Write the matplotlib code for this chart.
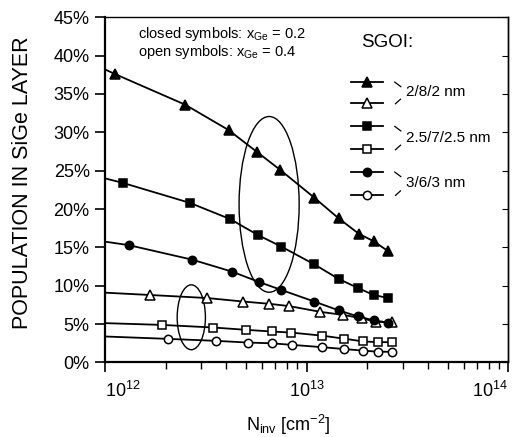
import matplotlib
matplotlib.use("Agg")
import matplotlib.pyplot as plt
from matplotlib.patches import Ellipse
from matplotlib.ticker import PercentFormatter, LogLocator

plt.rcParams['font.family'] = ['Liberation Sans', 'DejaVu Sans']
plt.rcParams['mathtext.fontset'] = 'custom'
plt.rcParams['mathtext.rm'] = 'Liberation Sans'
plt.rcParams['mathtext.it'] = 'Liberation Sans'
plt.rcParams['mathtext.bf'] = 'Liberation Sans:bold'

# first value of each series is where the curve meets the left axis (no marker)
x_tri_c = [1.0e12, 1.12e12, 2.5e12, 4.1e12, 5.7e12, 7.4e12, 1.09e13, 1.44e13, 1.81e13, 2.15e13, 2.54e13]
y_tri_c = [38.2, 37.6, 33.6, 30.3, 27.4, 25.1, 21.5, 18.8, 16.8, 15.8, 14.5]

x_sq_c = [1.0e12, 1.23e12, 2.64e12, 4.17e12, 5.75e12, 7.5e12, 1.09e13, 1.44e13, 1.8e13, 2.15e13, 2.54e13]
y_sq_c = [24.0, 23.4, 20.8, 18.7, 16.6, 15.1, 12.8, 10.9, 9.7, 8.8, 8.4]

x_ci_c = [1.0e12, 1.31e12, 2.71e12, 4.26e12, 5.8e12, 7.5e12, 1.09e13, 1.44e13, 1.8e13, 2.15e13, 2.54e13]
y_ci_c = [15.75, 15.3, 13.4, 11.85, 10.5, 9.45, 7.95, 6.8, 6.0, 5.5, 5.2]

x_tri_o = [1.0e12, 1.67e12, 3.22e12, 4.82e12, 6.53e12, 8.2e12, 1.17e13, 1.52e13, 1.89e13, 2.21e13, 2.65e13]
y_tri_o = [9.1, 8.8, 8.4, 7.95, 7.65, 7.35, 6.6, 6.2, 5.75, 5.3, 5.25]

x_sq_o = [1.0e12, 1.91e12, 3.44e12, 4.99e12, 6.72e12, 8.38e12, 1.19e13, 1.54e13, 1.9e13, 2.27e13, 2.64e13]
y_sq_o = [5.13, 4.9, 4.56, 4.26, 4.04, 3.9, 3.5, 3.1, 2.75, 2.65, 2.65]

x_ci_o = [1.0e12, 2.05e12, 3.56e12, 5.1e12, 6.72e12, 8.45e12, 1.19e13, 1.54e13, 1.9e13, 2.27e13, 2.64e13]
y_ci_o = [3.39, 3.08, 2.82, 2.6, 2.5, 2.3, 2.0, 1.75, 1.55, 1.4, 1.4]

group_labels = ['2/8/2 nm', '2.5/7/2.5 nm', '3/6/3 nm']
x_decades = [1e12, 1e13, 1e14]

fig = plt.figure(figsize=(5.24, 4.37), dpi=100)
ax = fig.add_axes([0.2004, 0.1705, 0.7695, 0.79])

series = [
    (x_tri_c, y_tri_c, '^', 'black'),
    (x_tri_o, y_tri_o, '^', 'white'),
    (x_sq_c, y_sq_c, 's', 'black'),
    (x_sq_o, y_sq_o, 's', 'white'),
    (x_ci_c, y_ci_c, 'o', 'black'),
    (x_ci_o, y_ci_o, 'o', 'white'),
]
for xs, ys, m, fc in series:
    ax.plot(xs, ys, color='black', lw=1.3, marker=m, markersize=6.5 if m == '^' else 6,
            markerfacecolor=fc, markeredgecolor='black', markeredgewidth=1.1,
            markevery=list(range(1, len(xs))), zorder=3)

ax.set_xscale('log')
ax.set_xlim(1e12, 1e14)
ax.set_ylim(0, 45)
ax.set_yticks(range(0, 46, 5))
ax.yaxis.set_major_formatter(PercentFormatter(decimals=0))
ax.set_xticks(x_decades)
ax.xaxis.set_minor_locator(LogLocator(base=10, subs=range(2, 10)))
ax.xaxis.set_minor_formatter(plt.NullFormatter())

ax.tick_params(axis='y', which='major', direction='out', length=7, width=1.2,
               labelsize=13, pad=4)
ax.tick_params(axis='x', which='major', direction='out', length=7, width=1.2,
               labelsize=13, pad=6)
ax.tick_params(axis='x', which='minor', direction='out', length=5, width=1.0)
for s in ax.spines.values():
    s.set_linewidth(1.0)
ax.spines['left'].set_linewidth(1.6)
ax.spines['bottom'].set_linewidth(1.6)

# small inward ticks on the right frame
sec = ax.secondary_yaxis('right')
sec.set_yticks(range(0, 46, 5))
sec.tick_params(direction='in', length=4, width=0.8, labelright=False)
sec.spines['right'].set_linewidth(1.0)

# decade labels sit inside the axis span like in the original figure
xlabs = ax.get_xticklabels()
xlabs[0].set_horizontalalignment('left')
xlabs[2].set_horizontalalignment('right')

ax.set_ylabel('POPULATION IN SiGe LAYER', fontsize=15.5)
ax.yaxis.set_label_coords(-0.178, 0.52)
ax.set_xlabel(r'N$_{\mathrm{inv}}$ [cm$^{-2}$]', fontsize=13)
ax.xaxis.set_label_coords(0.455, -0.145)

# ellipses marking the groups
ax.add_patch(Ellipse((0.407, 0.458), 0.149, 0.509, transform=ax.transAxes,
                     fill=False, ec='black', lw=1.0, zorder=2))
ax.add_patch(Ellipse((0.214, 0.131), 0.070, 0.188, transform=ax.transAxes,
                     fill=False, ec='black', lw=1.0, zorder=2))

# annotations
def fx(px):
    return (px - 105) / 403.5

def fy(py):
    return (362.7 - py) / 345.4

ax.text(fx(138), fy(34), r'closed symbols: x$_{\mathrm{Ge}}$ = 0.2', transform=ax.transAxes,
        fontsize=10.5, va='center', ha='left')
ax.text(fx(138), fy(51.7), r'open symbols: x$_{\mathrm{Ge}}$ = 0.4', transform=ax.transAxes,
        fontsize=10.5, va='center', ha='left')
ax.text(fx(361), fy(42.7), 'SGOI:', transform=ax.transAxes, fontsize=13.5,
        va='center', ha='left')

# hand-drawn style legend
row_y = [81.7, 103.3, 126, 149.3, 171.7, 195]
for (xs, ys, m, fc), ry in zip(series, row_y):
    ax.plot([fx(350.7), fx(383.3)], [fy(ry), fy(ry)], color='black', lw=1.3,
            transform=ax.transAxes, clip_on=False)
    ax.plot([fx(367)], [fy(ry)], marker=m, markersize=6.5 if m == '^' else 6,
            markerfacecolor=fc, markeredgecolor='black', markeredgewidth=1.1,
            transform=ax.transAxes, clip_on=False)

for i, lab in enumerate(group_labels):
    top, bot = row_y[2 * i], row_y[2 * i + 1]
    ax.plot([fx(395), fx(401)], [fy(top + 0.5), fy(top + 5)], color='black', lw=0.9,
            transform=ax.transAxes)
    ax.plot([fx(395.7), fx(400.7)], [fy(bot + 0.5), fy(bot - 4)], color='black', lw=0.9,
            transform=ax.transAxes)
    ax.text(fx(406), fy((top + bot) / 2), lab, transform=ax.transAxes, fontsize=11,
            va='center', ha='left')

fig.savefig('out.png', dpi=100)
